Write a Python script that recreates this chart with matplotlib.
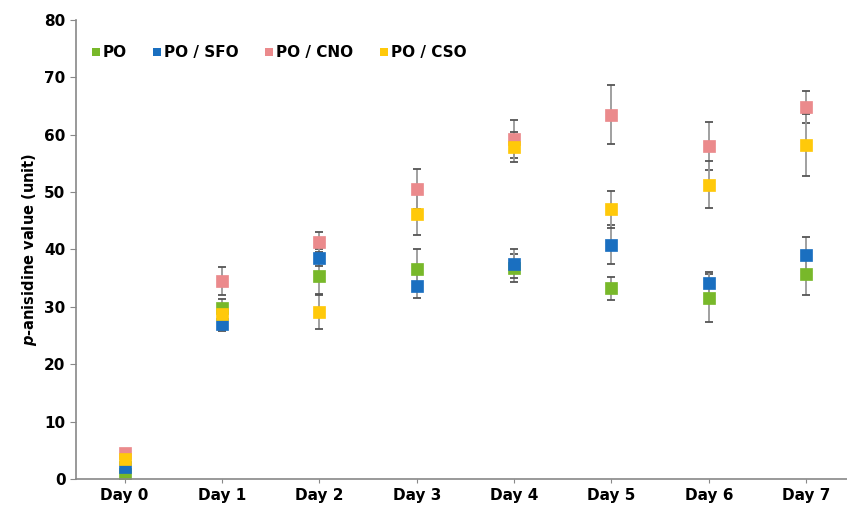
import numpy as np
import matplotlib.pyplot as plt
from matplotlib.lines import Line2D

days = ['Day 0', 'Day 1', 'Day 2', 'Day 3', 'Day 4', 'Day 5', 'Day 6', 'Day 7']

po = [0.9, 29.8, 35.4, 36.6, 36.8, 33.2, 31.5, 35.7]
po_err = [0.3, 1.5, 3.2, 3.4, 2.5, 2.0, 4.2, 3.6]
sfo = [2.1, 27.0, 38.6, 33.7, 37.5, 40.8, 34.2, 39.0]
sfo_err = [0.3, 1.2, 1.5, 2.2, 2.5, 3.4, 1.9, 3.1]
cno = [4.6, 34.5, 41.3, 50.6, 59.2, 63.5, 58.1, 64.8]
cno_err = [0.3, 2.4, 1.7, 3.5, 3.3, 5.2, 4.2, 2.8]
cso = [3.5, 28.7, 29.1, 46.2, 57.8, 47.0, 51.3, 58.2]
cso_err = [0.5, 1.3, 3.0, 3.7, 2.6, 3.2, 4.1, 5.4]

labels = ['PO', 'PO / SFO', 'PO / CNO', 'PO / CSO']
colors = ['#78b82a', '#1a6fc0', '#eb8a8c', '#ffc90a']

fig = plt.figure(figsize=(8.47, 5.09), dpi=100)
ax = fig.add_axes([0.0897, 0.059, 0.9103, 0.9017])

x = np.arange(len(days))
handles = []
for vals, errs, lab, col in zip([po, sfo, cno, cso], [po_err, sfo_err, cno_err, cso_err], labels, colors):
    eb = ax.errorbar(x, vals, yerr=errs, fmt='s', color=col, ms=8, markeredgecolor=col,
                     ecolor='#999999', elinewidth=1.3, capsize=3, capthick=1.3)
    eb[0].set_markeredgewidth(0.5)
    for c in eb[1]:
        c.set_markeredgecolor('#555555')
    handles.append(Line2D([], [], ls='none', marker='s', color=col, ms=6, mew=0, label=lab))

ax.set_xlim(-0.5, 7.42)
ax.set_ylim(0, 80)
ax.set_yticks(range(0, 81, 10))
ax.set_xticks(x)
ax.set_xticklabels(days)
for t in ax.get_xticklabels() + ax.get_yticklabels():
    t.set_fontweight('bold')
    t.set_fontsize(11)
ax.set_ylabel(r'$\bfit{p}$' + '-anisidine value (unit)', fontweight='bold', fontsize=10.5)

for s in ['top', 'right']:
    ax.spines[s].set_visible(False)
for s in ['left', 'bottom']:
    ax.spines[s].set_color('#888888')
    ax.spines[s].set_linewidth(1.2)
ax.tick_params(axis='both', colors='#888888', labelcolor='black', length=4)
ax.tick_params(axis='x', length=3)

ax.legend(handles=handles, loc='upper left', ncol=4, frameon=False, bbox_to_anchor=(0.0, 0.975),
          handletextpad=0.05, columnspacing=1.6, handlelength=0.8,
          prop={'weight': 'bold', 'size': 11})

fig.savefig('out.png', dpi=100)
